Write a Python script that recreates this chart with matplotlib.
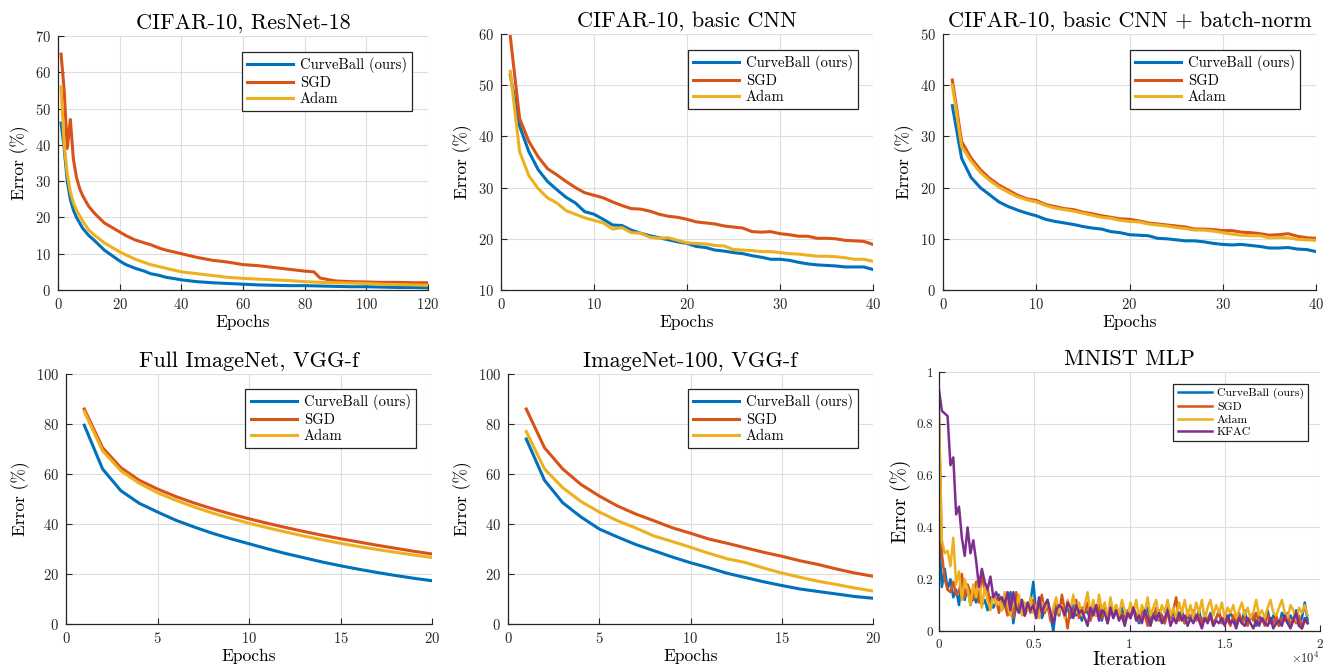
import numpy as np
import matplotlib
matplotlib.use("Agg")
import matplotlib.pyplot as plt

plt.rcParams["font.family"] = "cmr10"
plt.rcParams["mathtext.fontset"] = "cm"
plt.rcParams["axes.formatter.use_mathtext"] = True

C_CB = "#0072BD"
C_SGD = "#D95319"
C_ADAM = "#EDB120"
C_KFAC = "#7E2F8E"
DARK = "#262626"

# ---- CIFAR-10, ResNet-18 ----
r18_cb_ep = [1, 2, 3, 4, 5, 6, 8, 10, 12, 15, 18, 20, 22, 25, 28, 30, 33, 35, 38, 40, 45, 50, 55, 60, 65, 70, 75, 80, 85, 90, 95, 100, 105, 110, 115, 120]
r18_cb = [46, 39, 30, 25, 22, 20, 17, 15, 13.5, 11, 9.2, 8, 7, 6, 5.2, 4.5, 4, 3.5, 3.1, 2.8, 2.3, 2.0, 1.8, 1.6, 1.4, 1.3, 1.2, 1.2, 1.1, 1.0, 0.9, 0.9, 0.8, 0.7, 0.7, 0.6]
r18_sgd_ep = [1, 2, 3, 4, 5, 6, 7, 8, 9, 10, 12, 15, 18, 20, 22, 25, 28, 30, 33, 35, 38, 40, 45, 50, 55, 60, 65, 70, 75, 80, 83, 85, 88, 90, 95, 100, 105, 110, 115, 120]
r18_sgd = [65, 55, 39, 47, 36, 31, 28, 26, 24.5, 23, 21, 18.5, 17, 16, 15, 13.8, 13, 12.5, 11.5, 11, 10.4, 10, 9, 8.2, 7.7, 7, 6.7, 6.2, 5.7, 5.2, 5, 3.3, 2.8, 2.5, 2.3, 2.2, 2.1, 2.1, 2.0, 2.0]
r18_adam_ep = [1, 2, 3, 4, 5, 6, 8, 10, 12, 15, 18, 20, 22, 25, 28, 30, 33, 35, 38, 40, 45, 50, 55, 60, 65, 70, 75, 80, 85, 90, 95, 100, 105, 110, 115, 120]
r18_adam = [56, 40, 32, 27, 24, 22, 19, 16.5, 15, 13, 11.5, 10.5, 9.7, 8.5, 7.6, 7, 6.4, 6, 5.4, 5, 4.5, 4, 3.5, 3.2, 3, 2.8, 2.6, 2.3, 2.1, 2, 1.9, 1.8, 1.6, 1.5, 1.4, 1.3]

# ---- CIFAR-10, basic CNN ----
cnn_ep = list(range(1, 41))
cnn_cb = [52, 42, 37, 33.5, 31.2, 29.6, 28.1, 27, 25.3, 24.8, 23.8, 22.7, 22.6, 21.7, 21.1, 20.6, 20.2, 19.8, 19.4, 19.1,
          18.5, 18.3, 17.8, 17.6, 17.3, 17.1, 16.7, 16.4, 16, 16, 15.8, 15.4, 15.1, 14.9, 14.8, 14.7, 14.5, 14.5, 14.5, 14]
cnn_sgd = [59.5, 43.5, 39, 36, 33.7, 32.5, 31.2, 30, 29, 28.5, 28, 27.2, 26.5, 25.9, 25.8, 25.4, 24.8, 24.4, 24.2, 23.8,
           23.3, 23.1, 22.9, 22.5, 22.3, 22.1, 21.4, 21.3, 21.4, 21, 20.8, 20.5, 20.5, 20.1, 20.1, 20, 19.7, 19.6, 19.5, 18.9]
cnn_adam = [52.7, 37, 32.3, 29.8, 28, 27, 25.5, 24.8, 24.1, 23.6, 23.1, 21.9, 22.2, 21.2, 21.1, 20.3, 20.1, 20.2, 19.7, 19.2,
            19.1, 19, 18.7, 18.6, 17.9, 17.8, 17.7, 17.5, 17.5, 17.3, 17.1, 17, 16.8, 16.6, 16.6, 16.5, 16.3, 16, 16, 15.6]

# ---- CIFAR-10, basic CNN + batch-norm ----
bn_ep = list(range(1, 41))
bn_cb = [36, 25.7, 22, 20, 18.6, 17.2, 16.3, 15.6, 15, 14.5, 13.8, 13.4, 13.1, 12.8, 12.4, 12.1, 11.9, 11.4, 11.2, 10.8,
         10.7, 10.6, 10.1, 10, 9.8, 9.6, 9.6, 9.4, 9.1, 8.9, 8.8, 8.9, 8.7, 8.5, 8.2, 8.2, 8.3, 8, 7.9, 7.5]
bn_sgd = [41, 29, 25.8, 23.5, 21.8, 20.5, 19.5, 18.5, 17.8, 17.5, 16.7, 16.3, 15.9, 15.7, 15.2, 14.9, 14.5, 14.2, 13.9, 13.8,
          13.5, 13.1, 12.9, 12.7, 12.5, 12.3, 11.9, 11.9, 11.8, 11.6, 11.6, 11.3, 11.2, 11, 10.7, 10.8, 11, 10.5, 10.2, 10.1]
bn_adam = [40, 28, 25.2, 23, 21.4, 20.1, 19.1, 18.2, 17.6, 17.2, 16.5, 16, 15.7, 15.4, 15, 14.6, 14.2, 14, 13.6, 13.4,
           13.3, 12.9, 12.7, 12.5, 12.2, 12, 11.7, 11.7, 11.5, 11.2, 10.9, 10.7, 10.6, 10.6, 10.2, 10.3, 10.2, 9.9, 9.8, 9.7]

# ---- Full ImageNet, VGG-f ----
inet_ep = list(range(1, 21))
inet_cb = [79.5, 62, 53.3, 48.3, 44.8, 41.5, 38.8, 36.3, 34.1, 32.1, 30.1, 28.2, 26.5, 24.8, 23.3, 21.9, 20.6, 19.4, 18.3, 17.3]
inet_sgd = [86, 70.5, 62.5, 57.5, 54, 51, 48.4, 46.1, 44, 42.1, 40.3, 38.6, 37, 35.5, 34.1, 32.8, 31.5, 30.3, 29.1, 28]
inet_adam = [85, 69.3, 61.3, 56.3, 52.5, 49.5, 46.8, 44.4, 42.3, 40.3, 38.5, 36.8, 35.2, 33.7, 32.3, 31, 29.8, 28.7, 27.6, 26.6]

# ---- ImageNet-100, VGG-f ----
i100_ep = list(range(1, 21))
i100_cb = [74, 57.5, 48.5, 42.8, 38, 34.8, 31.8, 29.3, 26.8, 24.5, 22.5, 20.3, 18.6, 16.9, 15.4, 14, 13, 12, 11, 10.3]
i100_sgd = [86, 70.5, 62, 55.8, 51.2, 47.2, 44, 41.3, 38.5, 36.3, 34, 32.3, 30.5, 28.7, 27.1, 25.3, 23.8, 22, 20.4, 19.1]
i100_adam = [77, 62, 54.5, 49, 44.8, 41.3, 38.4, 35.2, 33, 30.7, 28.3, 26.1, 24.6, 22.4, 20.4, 18.7, 17.1, 15.8, 14.4, 13.2]

# ---- MNIST MLP (one value every 150 iterations) ----
mnist_step = 150
mnist_xticks = [0, 5000, 10000, 15000, 20000]
mnist_xticklabels = ["0", "0.5", "1", "1.5", "2"]
mnist_yticklabels = ["0", "0.2", "0.4", "0.6", "0.8", "1"]
mnist_kfac = [0.93, 0.85, 0.84, 0.83, 0.64, 0.67, 0.45, 0.48, 0.36, 0.29, 0.40, 0.30, 0.35, 0.27, 0.17, 0.24, 0.19, 0.16, 0.21, 0.13,
              0.15, 0.12, 0.13, 0.10, 0.15, 0.08, 0.15, 0.09, 0.07, 0.12, 0.06, 0.11, 0.08, 0.10, 0.05, 0.13, 0.07, 0.10, 0.12, 0.07,
              0.03, 0.08, 0.10, 0.09, 0.06, 0.11, 0.09, 0.05, 0.10, 0.07, 0.08, 0.05, 0.02, 0.09, 0.06, 0.10, 0.04, 0.08, 0.07, 0.03,
              0.09, 0.05, 0.08, 0.04, 0.06, 0.02, 0.07, 0.05, 0.09, 0.04, 0.06, 0.03, 0.08, 0.05, 0.02, 0.06, 0.04, 0.07, 0.03, 0.05,
              0.08, 0.02, 0.05, 0.03, 0.07, 0.04, 0.06, 0.02, 0.05, 0.03, 0.06, 0.04, 0.01, 0.05, 0.03, 0.06, 0.02, 0.04, 0.03, 0.05,
              0.02, 0.06, 0.03, 0.04, 0.01, 0.05, 0.03, 0.02, 0.05, 0.03, 0.01, 0.04, 0.02, 0.05, 0.03, 0.02, 0.05, 0.01, 0.03, 0.04,
              0.02, 0.06, 0.03, 0.01, 0.04, 0.07, 0.02, 0.01, 0.05, 0.03]
mnist_cb = [0.36, 0.17, 0.24, 0.16, 0.20, 0.13, 0.16, 0.10, 0.20, 0.12, 0.17, 0.10, 0.14, 0.11, 0.15, 0.10, 0.12, 0.08, 0.13, 0.09,
            0.11, 0.14, 0.08, 0.12, 0.07, 0.15, 0.03, 0.10, 0.08, 0.12, 0.06, 0.09, 0.11, 0.19, 0.07, 0.10, 0.05, 0.08, 0.12, 0.06,
            0.00, 0.09, 0.06, 0.11, 0.07, 0.09, 0.05, 0.10, 0.06, 0.08, 0.04, 0.09, 0.07, 0.05, 0.10, 0.06, 0.08, 0.04, 0.09, 0.06,
            0.10, 0.05, 0.08, 0.06, 0.09, 0.04, 0.07, 0.05, 0.09, 0.06, 0.03, 0.08, 0.06, 0.09, 0.04, 0.07, 0.05, 0.08, 0.06, 0.03,
            0.09, 0.05, 0.07, 0.04, 0.06, 0.08, 0.03, 0.06, 0.04, 0.07, 0.05, 0.08, 0.03, 0.06, 0.04, 0.07, 0.02, 0.05, 0.07, 0.03,
            0.06, 0.04, 0.07, 0.05, 0.02, 0.06, 0.04, 0.08, 0.03, 0.05, 0.07, 0.02, 0.06, 0.04, 0.05, 0.08, 0.03, 0.06, 0.04, 0.02,
            0.07, 0.05, 0.03, 0.06, 0.04, 0.08, 0.02, 0.05, 0.11, 0.04]
mnist_sgd = [0.84, 0.30, 0.20, 0.16, 0.15, 0.19, 0.14, 0.15, 0.22, 0.13, 0.18, 0.15, 0.12, 0.19, 0.11, 0.23, 0.15, 0.17, 0.09, 0.14,
             0.12, 0.07, 0.13, 0.10, 0.06, 0.12, 0.05, 0.15, 0.08, 0.11, 0.06, 0.10, 0.07, 0.12, 0.05, 0.09, 0.14, 0.07, 0.10, 0.04,
             0.08, 0.11, 0.06, 0.14, 0.08, 0.01, 0.09, 0.06, 0.12, 0.05, 0.09, 0.07, 0.11, 0.04, 0.08, 0.06, 0.10, 0.05, 0.09, 0.03,
             0.08, 0.06, 0.10, 0.05, 0.07, 0.03, 0.08, 0.05, 0.09, 0.06, 0.04, 0.08, 0.06, 0.02, 0.07, 0.05, 0.09, 0.04, 0.06, 0.03,
             0.07, 0.05, 0.08, 0.13, 0.04, 0.06, 0.03, 0.07, 0.05, 0.08, 0.04, 0.06, 0.02, 0.07, 0.04, 0.06, 0.03, 0.05, 0.08, 0.03,
             0.06, 0.04, 0.02, 0.06, 0.04, 0.07, 0.03, 0.05, 0.02, 0.06, 0.04, 0.07, 0.03, 0.05, 0.02, 0.06, 0.04, 0.03, 0.06, 0.02,
             0.05, 0.04, 0.07, 0.02, 0.05, 0.03, 0.06, 0.01, 0.04, 0.03]
mnist_adam = [0.82, 0.35, 0.30, 0.31, 0.25, 0.36, 0.18, 0.23, 0.12, 0.20, 0.16, 0.10, 0.18, 0.13, 0.21, 0.09, 0.17, 0.12, 0.08, 0.14,
              0.10, 0.13, 0.08, 0.15, 0.10, 0.06, 0.13, 0.09, 0.14, 0.06, 0.11, 0.08, 0.13, 0.07, 0.10, 0.05, 0.11, 0.08, 0.12, 0.06,
              0.09, 0.13, 0.07, 0.10, 0.05, 0.12, 0.08, 0.14, 0.07, 0.11, 0.06, 0.10, 0.15, 0.07, 0.12, 0.06, 0.14, 0.08, 0.11, 0.05,
              0.13, 0.07, 0.10, 0.06, 0.12, 0.08, 0.05, 0.11, 0.07, 0.12, 0.05, 0.10, 0.07, 0.13, 0.06, 0.09, 0.12, 0.05, 0.10, 0.07,
              0.12, 0.06, 0.09, 0.05, 0.11, 0.07, 0.12, 0.06, 0.10, 0.05, 0.11, 0.07, 0.12, 0.04, 0.09, 0.12, 0.06, 0.10, 0.07, 0.11,
              0.05, 0.09, 0.07, 0.10, 0.05, 0.08, 0.11, 0.06, 0.09, 0.05, 0.07, 0.12, 0.06, 0.08, 0.05, 0.09, 0.12, 0.07, 0.06, 0.09,
              0.12, 0.07, 0.05, 0.10, 0.08, 0.04, 0.09, 0.07, 0.10, 0.06]

labels3 = ["CurveBall (ours)", "SGD", "Adam"]

W, H = 1330, 669
fig = plt.figure(figsize=(W / 100, H / 100), dpi=100)


def box(l, r, t, b):
    return [l / W, (H - b) / H, (r - l) / W, (b - t) / H]


def style(ax, xlim, ylim, xt, yt, title, xlabel, tick_fs=10.5, lab_fs=12.5, title_fs=16, xpad=5, ypad=5, xlabelpad=2):
    ax.set_xlim(*xlim)
    ax.set_ylim(*ylim)
    ax.set_xticks(xt)
    ax.set_yticks(yt)
    ax.grid(True, color="#dedede", lw=0.8)
    ax.set_axisbelow(True)
    for s in ["top", "right"]:
        ax.spines[s].set_visible(False)
    for s in ["left", "bottom"]:
        ax.spines[s].set_color(DARK)
        ax.spines[s].set_linewidth(0.9)
    ax.tick_params(direction="in", length=4, width=0.8, colors=DARK, labelsize=tick_fs)
    ax.tick_params(axis="x", pad=xpad)
    ax.tick_params(axis="y", pad=ypad)
    ax.set_title(title, fontsize=title_fs, pad=5)
    ax.set_xlabel(xlabel, fontsize=lab_fs, labelpad=xlabelpad)
    ax.set_ylabel("Error (%)", fontsize=lab_fs, labelpad=4)


def legend(ax, anchor, fs=10.5, hl=3.2):
    lg = ax.legend(loc="upper right", bbox_to_anchor=anchor, borderaxespad=0, fontsize=fs,
                   fancybox=False, framealpha=1, edgecolor=DARK, handlelength=hl,
                   labelspacing=0.2, borderpad=0.35, handletextpad=0.45)
    lg.get_frame().set_linewidth(0.9)


lw = 2.2

ax = fig.add_axes(box(58, 428, 36, 290))
ax.plot(r18_cb_ep, r18_cb, color=C_CB, lw=lw, label=labels3[0])
ax.plot(r18_sgd_ep, r18_sgd, color=C_SGD, lw=lw, label=labels3[1])
ax.plot(r18_adam_ep, r18_adam, color=C_ADAM, lw=lw, label=labels3[2])
style(ax, (0, 120), (0, 70), range(0, 121, 20), range(0, 71, 10), "CIFAR-10, ResNet-18", "Epochs")
legend(ax, (0.957, 0.937))

ax = fig.add_axes(box(501, 873, 34, 290))
ax.plot(cnn_ep, cnn_cb, color=C_CB, lw=lw, label=labels3[0])
ax.plot(cnn_ep, cnn_sgd, color=C_SGD, lw=lw, label=labels3[1])
ax.plot(cnn_ep, cnn_adam, color=C_ADAM, lw=lw, label=labels3[2])
style(ax, (0, 40), (10, 60), range(0, 41, 10), range(10, 61, 10), "CIFAR-10, basic CNN", "Epochs")
legend(ax, (0.96, 0.9375))

ax = fig.add_axes(box(943, 1316, 34, 290))
ax.plot(bn_ep, bn_cb, color=C_CB, lw=lw, label=labels3[0])
ax.plot(bn_ep, bn_sgd, color=C_SGD, lw=lw, label=labels3[1])
ax.plot(bn_ep, bn_adam, color=C_ADAM, lw=lw, label=labels3[2])
style(ax, (0, 40), (0, 50), range(0, 41, 10), range(0, 51, 10), "CIFAR-10, basic CNN + batch-norm", "Epochs")
legend(ax, (0.957, 0.9375))

ax = fig.add_axes(box(66, 432, 374, 624))
ax.plot(inet_ep, inet_cb, color=C_CB, lw=lw, label=labels3[0])
ax.plot(inet_ep, inet_sgd, color=C_SGD, lw=lw, label=labels3[1])
ax.plot(inet_ep, inet_adam, color=C_ADAM, lw=lw, label=labels3[2])
style(ax, (0, 20), (0, 100), range(0, 21, 5), range(0, 101, 20), "Full ImageNet, VGG-f", "Epochs")
legend(ax, (0.956, 0.94))

ax = fig.add_axes(box(508, 873, 374, 624))
ax.plot(i100_ep, i100_cb, color=C_CB, lw=lw, label=labels3[0])
ax.plot(i100_ep, i100_sgd, color=C_SGD, lw=lw, label=labels3[1])
ax.plot(i100_ep, i100_adam, color=C_ADAM, lw=lw, label=labels3[2])
style(ax, (0, 20), (0, 100), range(0, 21, 5), range(0, 101, 20), "ImageNet-100, VGG-f", "Epochs")
legend(ax, (0.959, 0.94))

ax = fig.add_axes(box(939, 1320, 372, 631))
for vals, c, lab in [(mnist_cb, C_CB, labels3[0]), (mnist_sgd, C_SGD, labels3[1]),
                     (mnist_adam, C_ADAM, labels3[2]), (mnist_kfac, C_KFAC, "KFAC")]:
    ax.plot(np.arange(len(vals)) * mnist_step, vals, color=c, lw=1.8, label=lab)
style(ax, (0, 20000), (0, 1), mnist_xticks, np.arange(0, 1.01, 0.2), "MNIST MLP", "Iteration",
      tick_fs=9.5, lab_fs=14, title_fs=16, xpad=6, ypad=4, xlabelpad=0)
ax.set_xticklabels(mnist_xticklabels)
ax.set_yticklabels(mnist_yticklabels)
ax.annotate(r"$\times10^{4}$", xy=(1, 0), xycoords="axes fraction", xytext=(0, -14),
            textcoords="offset points", ha="right", va="top", fontsize=9, color=DARK)
legend(ax, (0.969, 0.954), fs=8.5, hl=2.9)

fig.savefig("out.png", dpi=100)
